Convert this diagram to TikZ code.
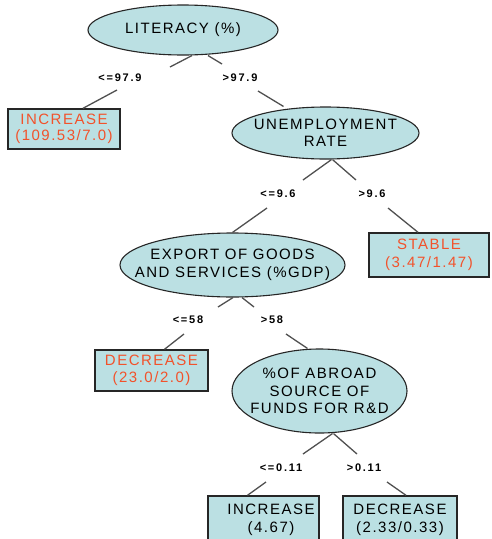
\documentclass[tikz,border=0pt]{standalone}
\usepackage{fontspec}
\setmainfont{Liberation Sans}[LetterSpace=10]
\newfontfamily\branchfont{Liberation Sans}[LetterSpace=16]
\usetikzlibrary{shapes.geometric}
\definecolor{nodefill}{HTML}{BBE0E3}
\definecolor{leafred}{HTML}{F2522B}
\definecolor{linegray}{HTML}{505050}
\tikzset{
  test/.style={ellipse, draw=black!85, line width=1.1pt, fill=nodefill,
    inner sep=-30pt, align=center, font=\fontsize{15}{17.5}\selectfont},
  leaf/.style={rectangle, draw=black!85, line width=1.4pt, fill=nodefill,
    inner sep=0pt, align=center, font=\fontsize{15}{17.5}\selectfont},
  redtext/.style={text=leafred},
  edge/.style={draw=linegray, line width=1.3pt},
  branch/.style={inner sep=0pt, font=\branchfont\bfseries\fontsize{11}{13}\selectfont}
}
\begin{document}
\begin{tikzpicture}[x=1pt,y=-1pt]
\useasboundingbox (0,0) rectangle (491,539);
\clip (0,0) rectangle (491,539);

% decision nodes
\node[test, minimum width=190pt, minimum height=50pt] (lit) at (183,30) {LITERACY (\%)};
\node[test, minimum width=187pt, minimum height=52pt] (unemp) at (325.5,133) {UNEMPLOYMENT\\RATE};
\node[test, minimum width=225pt, minimum height=64pt] (export) at (232.5,265) {EXPORT OF GOODS\\AND SERVICES (\%GDP)};
\node[test, minimum width=175pt, minimum height=84pt] (abroad) at (319.5,391) {\%OF ABROAD\\SOURCE OF\\FUNDS FOR R\&D};

% leaves
\node[leaf, redtext, minimum width=112pt, minimum height=40pt] (inc1) at (64,129) {\raisebox{-2pt}{\shortstack{INCREASE\\[2pt](109.53/7.0)}}};
\node[leaf, redtext, minimum width=120pt, minimum height=44pt] (stable) at (429,255) {STABLE\\(3.47/1.47)};
\node[leaf, redtext, minimum width=113pt, minimum height=41pt] (dec1) at (151.5,370.5) {DECREASE\\(23.0/2.0)};
\node[leaf, minimum width=111pt, minimum height=48pt] (inc2) at (263.5,520) {\hspace*{15pt}INCREASE\\\hspace*{15pt}(4.67)};
\node[leaf, minimum width=114pt, minimum height=48pt] (dec2) at (400,520) {DECREASE\\(2.33/0.33)};

% branch labels
\node[branch] (b1) at (120,78) {<=97.9};
\node[branch] (b2) at (240,78) {>97.9};
\node[branch] (b3) at (278,194) {<=9.6};
\node[branch] (b4) at (372,194) {>9.6};
\node[branch] (b5) at (188,320) {<=58};
\node[branch] (b6) at (272,320) {>58};
\node[branch] (b7) at (281,468) {<=0.11};
\node[branch] (b8) at (364,468) {>0.11};

% break points of the connectors around the labels
\coordinate (c1a) at (170,67);  \coordinate (c1b) at (117,90);
\coordinate (c2a) at (222,64);  \coordinate (c2b) at (258,91);
\coordinate (c3a) at (303,180); \coordinate (c3b) at (267,208);
\coordinate (c4a) at (356,180); \coordinate (c4b) at (388,208);
\coordinate (c5a) at (218,307); \coordinate (c5b) at (184,334);
\coordinate (c6a) at (254,307); \coordinate (c6b) at (286,334);
\coordinate (c7a) at (303,454); \coordinate (c7b) at (266,482);
\coordinate (c8a) at (357,454); \coordinate (c8b) at (387,482);

% connectors
\draw[edge] ([xshift=9pt]lit.south) -- (c1a);
\draw[edge] (c1b) -- ([xshift=19pt]inc1.north);
\draw[edge] ([xshift=25pt]lit.south) -- (c2a);
\draw[edge] (c2b) -- ([xshift=-42pt]unemp.north);
\draw[edge] ([xshift=6pt]unemp.south) -- (c3a);
\draw[edge] (c3b) -- ([xshift=0pt]export.north);
\draw[edge] ([xshift=7pt]unemp.south) -- (c4a);
\draw[edge] (c4b) -- ([xshift=-11pt]stable.north);
\draw[edge] ([xshift=0.5pt]export.south) -- (c5a);
\draw[edge] (c5b) -- ([xshift=13pt]dec1.north);
\draw[edge] ([xshift=9.5pt]export.south) -- (c6a);
\draw[edge] (c6b) -- ([xshift=-12pt]abroad.north);
\draw[edge] ([xshift=13pt]abroad.south) -- (c7a);
\draw[edge] (c7b) -- ([xshift=-16pt]inc2.north);
\draw[edge] ([xshift=14pt]abroad.south) -- (c8a);
\draw[edge] (c8b) -- ([xshift=6pt]dec2.north);
\end{tikzpicture}
\end{document}
